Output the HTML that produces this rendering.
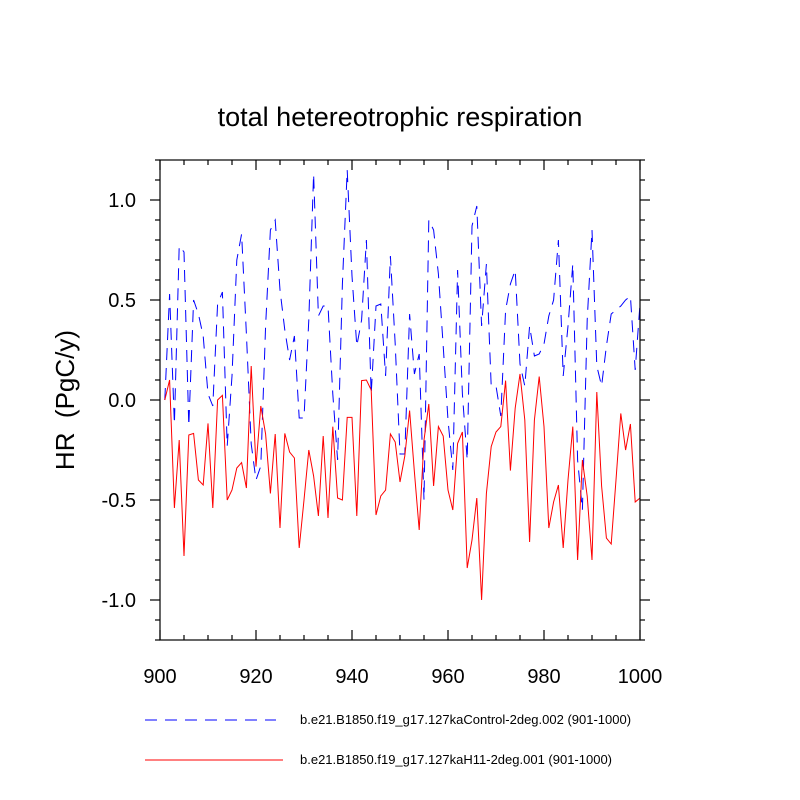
<!DOCTYPE html>
<html><head><meta charset="utf-8"><style>
body{margin:0;background:#fff}
svg{display:block;font-family:"Liberation Sans",sans-serif}
</style></head><body>
<svg id="c" width="800" height="800" viewBox="0 0 800 800">
<text x="400" y="126" text-anchor="middle" font-size="27">total hetereotrophic respiration</text>
<text transform="translate(74,400) rotate(-90)" text-anchor="middle" font-size="26" xml:space="preserve">HR  (PgC/y)</text>
<g id="axes"></g>
<g id="series"></g>
<rect x="160" y="160" width="480" height="480" fill="none" stroke="#000" stroke-width="1.2"/>
<line x1="145" y1="720" x2="276" y2="720" stroke="#00f" stroke-width="1" stroke-dasharray="12,8"/>
<text x="300" y="724" font-size="13">b.e21.B1850.f19_g17.127kaControl-2deg.002 (901-1000)</text>
<line x1="145" y1="760" x2="283" y2="760" stroke="#f00" stroke-width="1"/>
<text x="300" y="764" font-size="13">b.e21.B1850.f19_g17.127kaH11-2deg.001 (901-1000)</text>
</svg>
<script>
const yearStart = 901;
const controlValues = [0.0,0.53,-0.12,0.77,0.74,-0.13,0.5,0.43,0.32,0.03,-0.03,0.48,0.54,-0.23,0.12,0.7,0.83,0.33,-0.22,-0.4,-0.33,0.37,0.85,0.9,0.55,0.35,0.2,0.32,-0.09,-0.09,0.4,1.13,0.42,0.47,0.47,0.03,-0.3,0.58,1.15,0.62,0.27,0.4,0.8,0.03,0.47,0.48,0.12,0.72,0.28,-0.27,-0.27,0.43,0.13,0.23,-0.5,0.9,0.85,0.63,0.27,-0.1,-0.35,0.65,0.03,-0.3,0.87,0.97,0.37,0.68,0.07,0.07,-0.08,0.45,0.58,0.65,0.18,0.07,0.37,0.22,0.23,0.28,0.42,0.5,0.8,0.12,0.37,0.68,-0.3,-0.55,0.4,0.85,0.17,0.07,0.27,0.43,0.45,0.47,0.5,0.52,0.15,0.48];
const h11Values = [0.0,0.1,-0.54,-0.2,-0.78,-0.175,-0.167,-0.4,-0.425,-0.117,-0.54,0.0,0.023,-0.5,-0.45,-0.34,-0.313,-0.44,0.17,-0.333,-0.03,-0.17,-0.467,-0.17,-0.64,-0.167,-0.26,-0.29,-0.74,-0.5,-0.25,-0.38,-0.58,-0.18,-0.59,-0.133,-0.49,-0.5,-0.087,-0.087,-0.58,0.097,0.1,0.05,-0.575,-0.48,-0.45,-0.17,-0.21,-0.41,-0.28,-0.053,-0.36,-0.65,-0.2,-0.02,-0.43,-0.133,-0.18,-0.45,-0.55,-0.217,-0.16,-0.84,-0.7,-0.49,-1.0,-0.467,-0.233,-0.16,-0.133,0.097,-0.353,-0.04,0.13,-0.1,-0.71,-0.1,0.117,-0.133,-0.64,-0.51,-0.425,-0.74,-0.4,-0.133,-0.8,-0.3,-0.48,-0.8,0.04,-0.43,-0.69,-0.72,-0.4,-0.067,-0.25,-0.12,-0.51,-0.49];
const xTicks = [900,920,940,960,980,1000];
const yTicks = [-1.0,-0.5,0.0,0.5,1.0];
const yTickLabels = ["-1.0","-0.5","0.0","0.5","1.0"];

const X = v => 160 + (v-900)*4.8;
const Y = v => 400 - v*200;
const NS = "http://www.w3.org/2000/svg";
const axes = document.getElementById('axes');
const series = document.getElementById('series');
function mk(tag, attrs, parent){const e=document.createElementNS(NS,tag);for(const k in attrs)e.setAttribute(k,attrs[k]);parent.appendChild(e);return e;}

for(let v=900; v<=1000; v+=5){
  const major = v%20===0, len = major?10:5, x=X(v);
  const t1 = mk('line',{x1:x,y1:640,x2:x,y2:640-len,stroke:'#000','stroke-width':1.2},axes);
  
  
  const t2 = mk('line',{x1:x,y1:160,x2:x,y2:160+len,stroke:'#000','stroke-width':1.2},axes);
  
  
}
xTicks.forEach(v=>{
  const t = mk('text',{x:X(v),y:683,'text-anchor':'middle','font-size':20},axes);
  t.textContent = v;
  
  
});
for(let i=-12;i<=12;i++){
  const v=i/10, major=i%5===0, len=major?10:5, y=Y(v);
  const t1 = mk('line',{x1:160,y1:y,x2:160-len,y2:y,stroke:'#000','stroke-width':1.2},axes);
  
  
  const t2 = mk('line',{x1:640,y1:y,x2:640+len,y2:y,stroke:'#000','stroke-width':1.2},axes);
  
  
}
yTicks.forEach((v,i)=>{
  const t = mk('text',{x:136,y:Y(v)+7,'text-anchor':'end','font-size':20},axes);
  t.textContent = yTickLabels[i];
  
  
});
function pts(arr){return arr.map((v,i)=>X(yearStart+i).toFixed(1)+','+Y(v).toFixed(1)).join(' ');}
const pc = mk('polyline',{points:pts(controlValues),fill:'none',stroke:'#00f','stroke-width':1,'stroke-dasharray':'12,8'},series);


const ph = mk('polyline',{points:pts(h11Values),fill:'none',stroke:'#f00','stroke-width':1},series);


</script>
</body></html>
